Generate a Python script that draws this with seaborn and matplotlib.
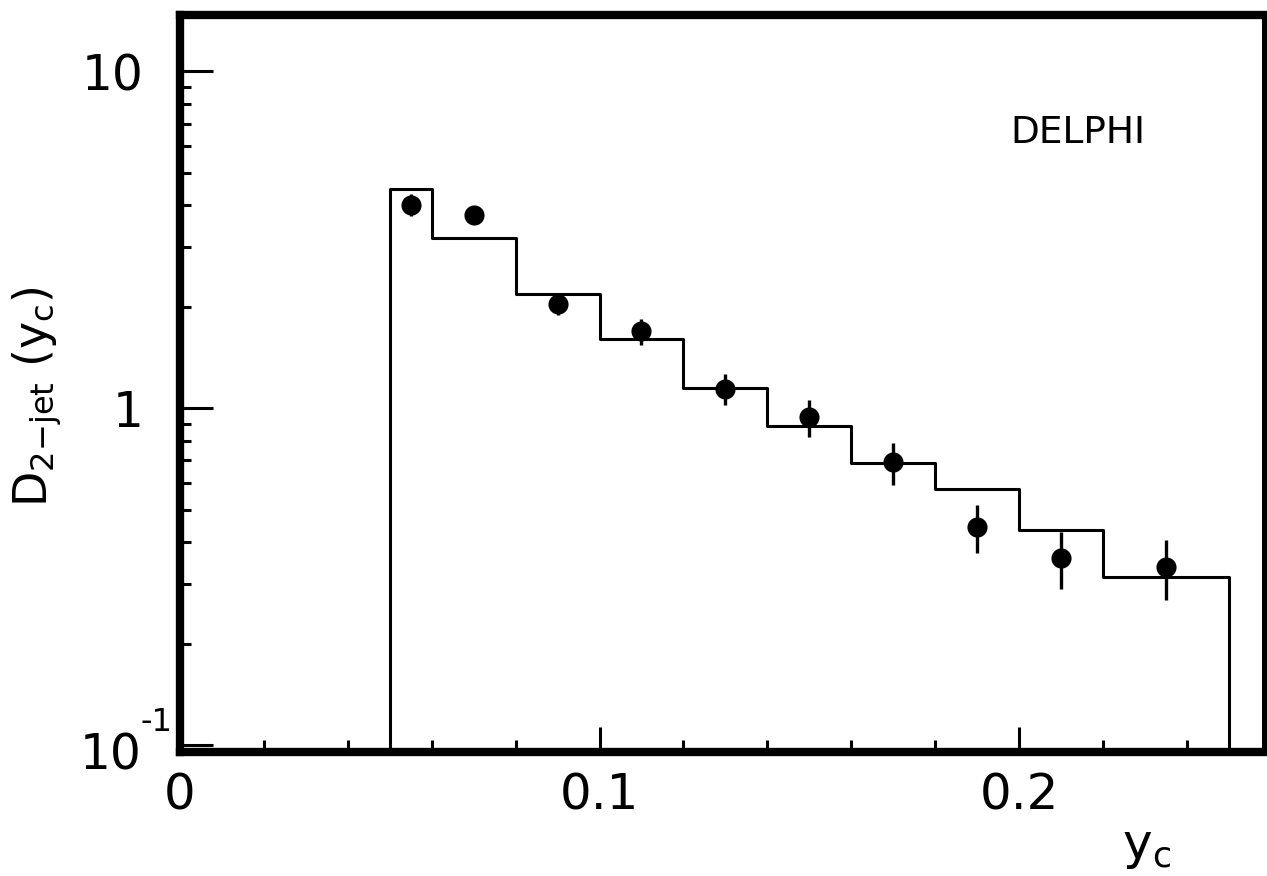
import numpy as np
import pandas as pd
import matplotlib
matplotlib.use("Agg")
import matplotlib.pyplot as plt
import matplotlib.ticker as mticker
import matplotlib.transforms as mtransforms
import seaborn as sns

# ---- data ----
bin_edges = [0.05, 0.06, 0.08, 0.10, 0.12, 0.14, 0.16, 0.18, 0.20, 0.22, 0.25]
mc_values = [4.47, 3.20, 2.18, 1.60, 1.15, 0.886, 0.688, 0.576, 0.436, 0.316]

data_x = [0.055, 0.07, 0.09, 0.11, 0.13, 0.15, 0.17, 0.19, 0.21, 0.235]
data_y = [4.02, 3.74, 2.04, 1.69, 1.14, 0.94, 0.69, 0.444, 0.36, 0.337]
data_err = [0.30, 0.20, 0.15, 0.15, 0.12, 0.12, 0.097, 0.073, 0.07, 0.068]

ytick_vals = [0.1, 1, 10]
ytick_labels = ["10", "1", "10"]
ytick_exp = "-1"
xtick_vals = [0, 0.1, 0.2]
xtick_labels = ["0", "0.1", "0.2"]

sns.set_style("ticks")
plt.rcParams["font.family"] = ["DejaVu Sans"]
plt.rcParams["mathtext.fontset"] = "dejavusans"
plt.rcParams["text.color"] = "black"
plt.rcParams["xtick.color"] = "black"
plt.rcParams["ytick.color"] = "black"
plt.rcParams["axes.labelcolor"] = "black"

fig = plt.figure(figsize=(12.67, 8.76), dpi=100)
ax = fig.add_axes([180 / 1267, 1 - 752 / 876, (1264 - 180) / 1267, (752 - 15) / 876])
ax.set_yscale("log")
ymin, ymax = 0.0953, 14.7

centers = [(a + b) / 2 for a, b in zip(bin_edges[:-1], bin_edges[1:])]
mc = pd.DataFrame({"x": centers, "w": mc_values})
sns.histplot(data=mc, x="x", weights="w", bins=bin_edges, element="step",
             fill=False, color="black", linewidth=2.2, ax=ax)
# outer edges of the histogram down to the axis
ax.vlines([bin_edges[0], bin_edges[-1]], ymin, [mc_values[0], mc_values[-1]],
          color="black", linewidth=2.2)

ax.errorbar(data_x, data_y, yerr=data_err, fmt="none", ecolor="black",
            elinewidth=2.4, capsize=0, zorder=3)
pts = pd.DataFrame({"x": data_x, "y": data_y})
sns.scatterplot(data=pts, x="x", y="y", s=210, color="black",
                edgecolor="black", linewidth=0, ax=ax, zorder=4)

ax.set_xlim(0, 0.2584)
ax.set_ylim(ymin, ymax)

ax.set_yticks(ytick_vals)
ax.set_yticklabels(["", ytick_labels[1], ytick_labels[2]])
ax.yaxis.set_minor_locator(mticker.LogLocator(base=10, subs=np.arange(2, 10)))
ax.yaxis.set_minor_formatter(mticker.NullFormatter())
ax.set_xticks(xtick_vals)
ax.set_xticklabels(xtick_labels)
ax.xaxis.set_minor_locator(mticker.MultipleLocator(0.02))

ax.tick_params(axis="y", which="major", direction="in", length=24, width=2.2,
               labelsize=35, pad=26)
ax.tick_params(axis="y", which="minor", direction="in", length=8, width=2.2)
ax.tick_params(axis="x", which="major", direction="in", length=18, width=2.2,
               labelsize=36, pad=14)
ax.tick_params(axis="x", which="minor", direction="in", length=9, width=2.2)

# 10^-1 label drawn as base + exponent, as in the original
trans = mtransforms.blended_transform_factory(ax.transAxes, ax.transData)
def px(dx, dy):
    return trans + mtransforms.ScaledTranslation(dx / 100, dy / 100, fig.dpi_scale_trans)
ax.text(0, ytick_vals[0], ytick_labels[0], transform=px(-38, -11),
        fontsize=35, ha="right", va="center")
ax.text(0, ytick_vals[0], ytick_exp, transform=px(-39, 7),
        fontsize=23, ha="left", va="bottom")

for side in ["left", "bottom", "top"]:
    ax.spines[side].set_linewidth(6.0)
ax.spines["right"].set_linewidth(3.6)
for s in ax.spines.values():
    s.set_color("black")
    s.set_visible(True)

ax.set_xlabel("")
ax.set_ylabel("")
fig.text(37 / 1267, 1 - 397 / 876, "D$_{2\\mathrm{-jet}}$ (y$_\\mathrm{c}$)",
         rotation=90, fontsize=33, ha="center", va="center")
fig.text(1147 / 1267, 1 - 847 / 876, "y$_\\mathrm{c}$", fontsize=36,
         ha="center", va="center")
ax.text(0.7657, 0.84, "DELPHI", transform=ax.transAxes, fontsize=27,
        ha="left", va="center")

fig.savefig("out.png", dpi=100)
